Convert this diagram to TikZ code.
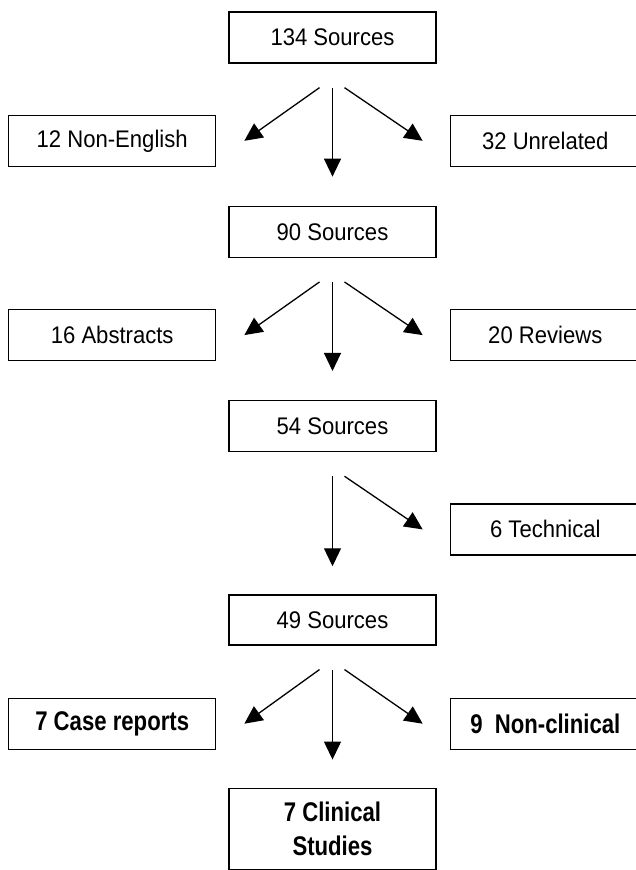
\documentclass[tikz,border=0pt]{standalone}
\usepackage{fontspec}
\setmainfont{Liberation Sans}[FakeStretch=0.92]
\newfontfamily\narrowfont[FakeStretch=0.82]{Liberation Sans}
\usetikzlibrary{arrows.meta,positioning}

\begin{document}
\begin{tikzpicture}[
  x=1pt,y=1pt,
  font=\fontsize{24}{28}\selectfont,
  box/.style={draw,line width=1.3pt,align=center,minimum width=207pt,minimum height=51pt,inner sep=2pt},
  rbox/.style={box,minimum width=190pt},
  boldbox/.style={box,font=\narrowfont\bfseries\fontsize{27}{34}\selectfont},
  flow/.style={-{Triangle[length=18pt,width=17pt]},line width=1.3pt}
]
\useasboundingbox (0,0) rectangle (636,-870);
\node[box] (s134) at (332.5,-37.5) {134 Sources};
\node[box,below left=51pt and 12pt of s134] (nonen) {12 Non-English};
\node[rbox,below right=51pt and 13pt of s134] (unrel) {32 Unrelated};
\node[box,below=142pt of s134] (s90) {90 Sources};
\node[box,below left=51pt and 12pt of s90] (abstr) {16 Abstracts};
\node[rbox,below right=51pt and 13pt of s90] (revw) {20 Reviews};
\node[box,below=142pt of s90] (s54) {54 Sources};
\node[rbox,below right=51pt and 13pt of s54] (techn) {6 Technical};
\node[box,below=142pt of s54,minimum height=50pt] (s49) {49 Sources};
\node[boldbox,below left=52pt and 12pt of s49] (cases) {7 Case reports};
\node[boldbox,rbox,below right=52pt and 13pt of s49] (noncl) {9\ \ Non-clinical};
\node[boldbox,below=142pt of s49,minimum height=81pt] (clin) {7 Clinical\\Studies};
\draw[flow] ([yshift=-24pt]s134.south) -- ([yshift=29pt]s90.north);
\draw[flow] ([xshift=-13pt,yshift=-24pt]s134.south) -- ([xshift=28pt]nonen.east);
\draw[flow] ([xshift=12pt,yshift=-24pt]s134.south) -- ([xshift=-27pt]unrel.west);
\draw[flow] ([yshift=-24pt]s90.south) -- ([yshift=29pt]s54.north);
\draw[flow] ([xshift=-13pt,yshift=-24pt]s90.south) -- ([xshift=28pt]abstr.east);
\draw[flow] ([xshift=12pt,yshift=-24pt]s90.south) -- ([xshift=-27pt]revw.west);
\draw[flow] ([yshift=-24pt]s54.south) -- ([yshift=28pt]s49.north);
\draw[flow] ([xshift=12pt,yshift=-24pt]s54.south) -- ([xshift=-27pt]techn.west);
\draw[flow] ([yshift=-24pt]s49.south) -- ([yshift=28pt]clin.north);
\draw[flow] ([xshift=-13pt,yshift=-24pt]s49.south) -- ([xshift=28pt]cases.east);
\draw[flow] ([xshift=12pt,yshift=-24pt]s49.south) -- ([xshift=-27pt]noncl.west);
\end{tikzpicture}
\end{document}
